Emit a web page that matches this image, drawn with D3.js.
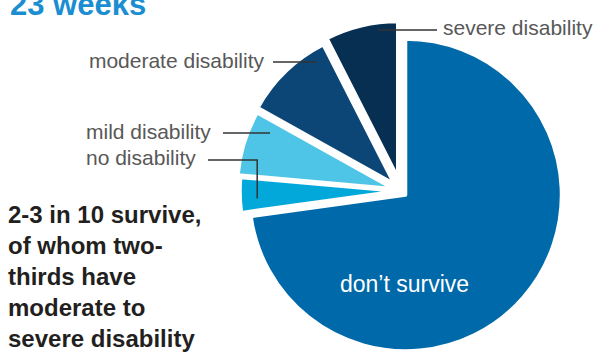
<html>
<head>
<meta charset="utf-8">
<title>23 weeks</title>
<script src="https://d3js.org/d3.v7.min.js"></script>
<style>
  body { margin: 0; background: #fff; }
  svg { display: block; }
</style>
</head>
<body>
<svg width="595" height="353"></svg>
<script>
// outcome shares at 23 weeks (percent of births)
var categories = ["don\u2019t survive", "no disability", "mild disability", "moderate disability", "severe disability"];
var values = [72.8, 3.6, 6.7, 9.4, 7.5];
var summary = ["2-3 in 10 survive,", "of whom two-", "thirds have", "moderate to", "severe disability"];

var colors = ["#0069aa", "#03a8da", "#4ec5e6", "#0b4677", "#062f52"];
var explode = [6, 5, 8, 10, 14];
var cx = 401, cy = 191, r = 156;

var svg = d3.select("svg");

// title, cut off at the top of the frame
svg.append("text")
  .attr("x", 10).attr("y", 15)
  .style("font-family", "Liberation Sans, Arial, sans-serif")
  .style("font-weight", "bold")
  .style("font-size", "31px")
  .style("fill", "#1b8ed1")
  .text("23 weeks");

var pie = d3.pie().sort(null).value(function(d){ return d; });
var arcs = pie(values);
var arc = d3.arc().innerRadius(0).outerRadius(r);

function offset(d, i) {
  var a = (d.startAngle + d.endAngle) / 2;
  return [cx + explode[i] * Math.sin(a), cy - explode[i] * Math.cos(a)];
}

var g = svg.append("g");
g.selectAll("path")
  .data(arcs)
  .enter()
  .append("path")
    .attr("transform", function(d, i){ var o = offset(d, i); return "translate(" + o[0] + "," + o[1] + ")"; })
    .attr("d", arc)
    .style("fill", function(d, i){ return colors[i]; })
    .style("stroke", "#fff")
    .style("stroke-width", 3.5)
    .style("stroke-linejoin", "round");

// label inside the big slice
var o0 = offset(arcs[0], 0);
svg.append("text")
  .attr("x", o0[0] - 1)
  .attr("y", o0[1] + r * 0.625)
  .attr("text-anchor", "middle")
  .style("font-family", "Liberation Sans, Arial, sans-serif")
  .style("font-size", "23px")
  .style("fill", "#fff")
  .text(categories[0]);

// outside labels with leaders: slice, angle (deg) and radius of the inner end, label spot, leader start
var labels = [
  {i: 4, ang: 352.4, rad: 148, tx: 443, ty: 35, lx: 437, ly: 30},
  {i: 3, ang: 327.4, rad: 145, tx: 264, ty: 68, lx: 273, ly: 62, anchor: "end"},
  {i: 2, ang: 294,   rad: 135, tx: 86,  ty: 139, lx: 223, ly: 133},
  {i: 1, ang: 267,   rad: 139, tx: 86,  ty: 165, lx: 208, ly: 160, elbow: true}
];

labels.forEach(function(l) {
  var o = offset(arcs[l.i], l.i);
  var a = l.ang * Math.PI / 180;
  var px = o[0] + l.rad * Math.sin(a), py = o[1] - l.rad * Math.cos(a);
  var pts = l.elbow ? [[l.lx, l.ly], [px, l.ly], [px, py]] : [[l.lx, l.ly], [px, l.ly]];
  svg.append("path")
    .attr("d", d3.line()(pts))
    .style("fill", "none")
    .style("stroke", "#333")
    .style("stroke-width", 1.5);
  svg.append("text")
    .attr("x", l.tx).attr("y", l.ty)
    .attr("text-anchor", l.anchor || "start")
    .style("font-family", "Liberation Sans, Arial, sans-serif")
    .style("font-size", "21px")
    .style("fill", "#585858")
    .text(categories[l.i]);
});

// summary note
svg.append("g").selectAll("text")
  .data(summary)
  .enter()
  .append("text")
    .attr("x", 8)
    .attr("y", function(d, i){ return 223 + i * 31; })
    .style("font-family", "Liberation Sans, Arial, sans-serif")
    .style("font-weight", "bold")
    .style("font-size", "24px")
    .style("fill", "#231f20")
    .text(function(d){ return d; });
</script>
</body>
</html>
